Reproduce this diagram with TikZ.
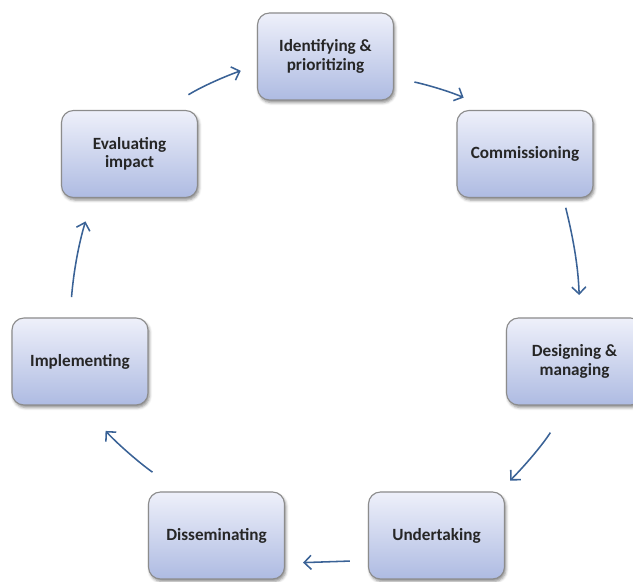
\documentclass[tikz,border=0pt]{standalone}
\usepackage{fontspec}
\setmainfont{Carlito}
\usetikzlibrary{arrows.meta}
\usetikzlibrary{shadows.blur}

\definecolor{boxtop}{RGB}{238,240,250}
\definecolor{boxbottom}{RGB}{174,187,226}
\definecolor{boxline}{RGB}{140,140,140}
\definecolor{arrowblue}{RGB}{58,98,150}

\begin{document}
\begin{tikzpicture}[x=0.025cm, y=-0.025cm,
    stage/.style={draw=boxline, line width=0.8pt, rounded corners=0.3cm,
        top color=boxtop, bottom color=boxbottom,
        minimum width=3.4cm, minimum height=2.175cm, align=center,
        font=\fontsize{12.2}{13.2}\selectfont\bfseries, text=black!85,
        blur shadow={shadow xshift=1pt, shadow yshift=-1.8pt, shadow blur radius=2pt, shadow opacity=45}},
    flow/.style={draw=arrowblue, line width=1.1pt, -{Straight Barb[length=5pt,width=10pt]}}]
    % Frame
    \useasboundingbox (0,0) rectangle (633,581);

    % Stages
    \node[stage] (iden) at (325.5,56.5) {Identifying \&\\prioritizing};
    \node[stage] (comm) at (525,154) {Commissioning};
    \node[stage] (desi) at (574.5,361.5) {Designing \&\\managing};
    \node[stage] (unde) at (436.5,535.5) {Undertaking};
    \node[stage] (diss) at (216.5,535.5) {Disseminating};
    \node[stage] (impl) at (80,361.5) {Implementing};
    \node[stage] (eval) at (129.5,154) {Evaluating\\impact};

    % Cycle arrows
    \draw[flow, shorten <=0.72cm, shorten >=0.43cm] (eval.52) to[bend left=6] (iden.187);
    \draw[flow, shorten <=0.52cm, shorten >=0.74cm] (iden.343) to[bend left=6] (comm.128);
    \draw[flow, shorten <=0.25cm, shorten >=0.56cm] (comm.311) to[bend left=6] (desi.83);
    \draw[flow, shorten <=0.8cm, shorten >=0.38cm] (desi.261) to[bend left=6] (unde.35);
    \draw[flow, shorten <=0.45cm, shorten >=0.45cm] (unde.200) -- (diss.338);
    \draw[flow, shorten <=0.83cm, shorten >=0.86cm] (diss.130) to[bend left=6] (impl.273);
    \draw[flow, shorten <=0.51cm, shorten >=0.61cm] (impl.103) to[bend left=6] (eval.230);
\end{tikzpicture}
\end{document}
